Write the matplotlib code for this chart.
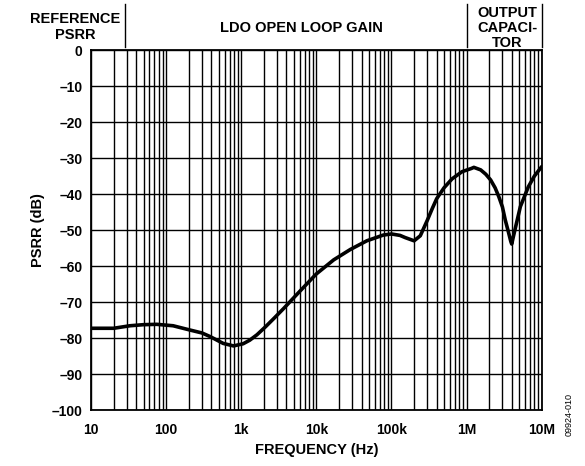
import numpy as np
import matplotlib.pyplot as plt
from matplotlib.lines import Line2D
from matplotlib.ticker import FixedLocator, NullFormatter

plt.rcParams['font.family'] = ['Liberation Sans', 'DejaVu Sans']
plt.rcParams['font.weight'] = 'bold'

# PSRR curve
freq = [10, 20, 33, 50, 75, 124, 209, 300, 385, 575, 790, 1060, 1300, 1620,
        2100, 2740, 3670, 6100, 10000, 17000, 28400, 47000, 78000, 100000,
        130000, 152000, 200000, 242000, 300000, 350000, 400000, 500000,
        640000, 870000, 1160000, 1250000, 1540000, 1800000, 2090000,
        2400000, 2680000, 3000000, 3270000, 3600000, 3880000, 3990000,
        4200000, 4500000, 5200000, 6640000, 8000000, 10000000]
psrr = [-77.3, -77.3, -76.6, -76.3, -76.2, -76.6, -77.8, -78.6, -79.6, -81.5,
        -82.2, -81.6, -80.6, -79.1, -76.9, -74.5, -71.8, -66.9, -62.2, -58.3,
        -55.4, -53.0, -51.4, -51.1, -51.5, -52.1, -53.0, -51.6, -47.3, -44.0,
        -41.3, -38.3, -35.8, -33.8, -32.9, -32.6, -33.3, -34.5, -36.1,
        -38.3, -40.7, -43.6, -47.2, -50.5, -53.2, -53.9, -51.8, -49.1, -43.5,
        -38.0, -35.0, -32.4]

xticks = [10, 100, 1e3, 1e4, 1e5, 1e6, 1e7]
xlabels = ['10', '100', '1k', '10k', '100k', '1M', '10M']
yticks = list(range(0, -101, -10))
ylabels = ['0'] + ['\u2013%d' % -v for v in yticks[1:]]

W, H = 585, 466
fig = plt.figure(figsize=(W / 100, H / 100), dpi=100)
ax = fig.add_axes([91 / W, 1 - 410 / H, (541.7 - 91) / W, (410 - 50) / H])

ax.set_xscale('log')
ax.set_xlim(10, 1e7)
ax.set_ylim(-100, 0)

minors = [m * 10 ** e for e in range(1, 7) for m in range(2, 10)]
ax.xaxis.set_major_locator(FixedLocator(xticks))
ax.xaxis.set_minor_locator(FixedLocator(minors))
ax.xaxis.set_minor_formatter(NullFormatter())
ax.set_xticklabels(xlabels)
ax.set_yticks(yticks)
ax.set_yticklabels(ylabels)

ax.grid(True, which='both', axis='x', color='black', lw=1.0)
ax.grid(True, which='major', axis='y', color='black', lw=1.0)
ax.tick_params(which='both', length=0, labelsize=10)
ax.tick_params(axis='x', pad=9)
ax.tick_params(axis='y', pad=6)
for s in ax.spines.values():
    s.set_linewidth(1.3)

ax.plot(freq, psrr, color='black', lw=2.6, solid_joinstyle='round',
        solid_capstyle='round')

ax.set_xlabel('FREQUENCY (Hz)', fontsize=10.5, fontweight='bold', labelpad=5)
ax.set_ylabel('PSRR (dB)', fontsize=10.5, fontweight='bold', labelpad=5)

# header band with separators
for xp in [125, 467, 541.5]:
    fig.add_artist(Line2D([xp / W, xp / W], [1 - 4 / H, 1 - 47 / H],
                          color='black', lw=1.0))
fig.text(75 / W, 1 - 27 / H, 'REFERENCE\nPSRR', ha='center', va='center',
         fontsize=10.5, fontweight='bold', linespacing=1.15)
fig.text(301 / W, 1 - 28 / H, 'LDO OPEN LOOP GAIN', ha='center', va='center',
         fontsize=10.5, fontweight='bold')
fig.text(507 / W, 1 - 28 / H, 'OUTPUT\nCAPACI-\nTOR', ha='center', va='center',
         fontsize=10.5, fontweight='bold', linespacing=1.12)
fig.text(569 / W, 1 - 415 / H, '09924-010', rotation=90, ha='center', va='center',
         fontsize=6.5, fontweight='normal')

fig.savefig('out.png', dpi=100)
